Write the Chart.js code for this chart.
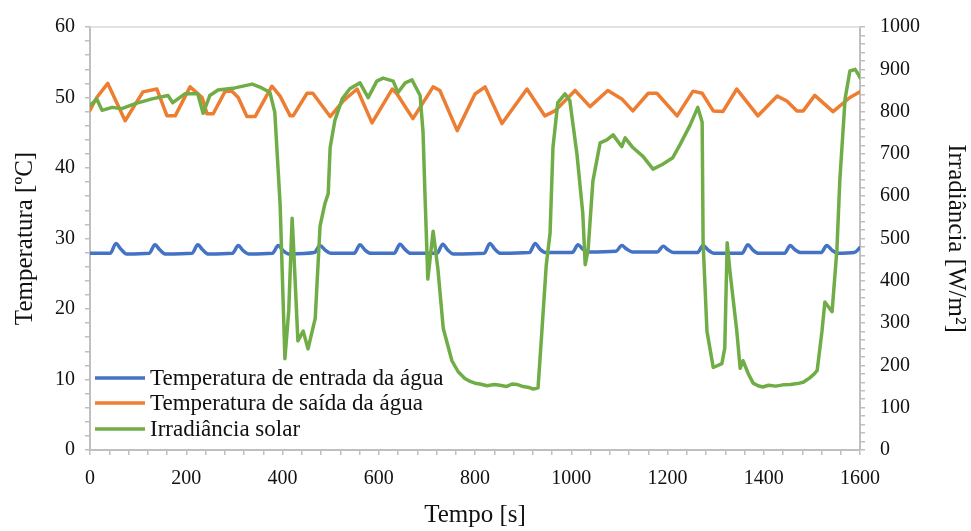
<!DOCTYPE html>
<html lang="pt">
<head>
<meta charset="utf-8">
<title>Temperatura e irradiância</title>
<script src="https://cdn.jsdelivr.net/npm/chart.js@4/dist/chart.umd.min.js"></script>
<style>
  html, body { margin: 0; padding: 0; background: #ffffff; }
  #wrap { width: 971px; height: 531px; position: relative; }
</style>
</head>
<body>
<div id="wrap"><canvas id="solarChart"></canvas></div>
<script>
// Tempo [s] e temperatura de entrada da água [ºC]
const inTime = [0, 42, 54, 64, 76, 123, 135, 145, 157, 212, 224, 234, 246, 296, 308, 318, 330,
    379, 391, 401, 413, 466, 478, 488, 500, 549, 561, 571, 583, 632, 644, 654, 666,
    721, 733, 743, 755, 819, 831, 841, 853, 913, 925, 935, 947, 1002, 1014, 1024, 1036,
    1093, 1105, 1115, 1127, 1179, 1191, 1201, 1213, 1262, 1274, 1284, 1296,
    1355, 1367, 1377, 1389, 1443, 1455, 1465, 1477, 1519, 1531, 1541, 1553, 1588, 1600];
const inTemp = [27.9, 27.9, 29.3, 28.5, 27.8, 27.9, 29.1, 28.4, 27.8, 27.9, 29.1, 28.4, 27.8,
    27.9, 29.0, 28.3, 27.8, 27.9, 29.0, 28.3, 27.8, 28.0, 29.0, 28.4, 27.9,
    27.9, 29.1, 28.4, 27.9, 27.9, 29.2, 28.5, 27.9, 27.9, 29.2, 28.4, 27.8,
    27.9, 29.3, 28.5, 27.9, 28.0, 29.3, 28.5, 28.0, 28.0, 29.1, 28.5, 28.1,
    28.2, 29.0, 28.5, 28.1, 28.1, 28.9, 28.4, 28.0, 28.0, 29.0, 28.4, 27.9,
    27.9, 29.1, 28.4, 27.9, 27.9, 29.0, 28.4, 28.0, 28.0, 29.0, 28.4, 27.9, 28.0, 28.7];

// Temperatura de saída da água [ºC]
const outTime = [0, 14, 37, 73, 110, 139, 160, 177, 208, 233, 243, 256, 281, 295, 308, 326, 343,
    378, 395, 416, 422, 451, 463, 499, 526, 555, 586, 628, 638, 671, 713, 727, 763,
    800, 821, 856, 908, 945, 966, 1008, 1039, 1076, 1105, 1128, 1160, 1178, 1220,
    1253, 1272, 1295, 1315, 1344, 1388, 1428, 1448, 1469, 1482, 1506, 1544, 1579, 1600];
const outTemp = [48.2, 50.0, 52.0, 46.7, 50.8, 51.2, 47.4, 47.4, 51.5, 50.0, 47.7, 47.7, 50.9,
    50.9, 50.0, 47.3, 47.3, 51.6, 50.2, 47.4, 47.4, 50.6, 50.6, 47.3, 49.5, 51.2,
    46.4, 51.2, 50.5, 47.0, 51.5, 51.0, 45.3, 50.5, 51.5, 46.3, 51.2, 47.4, 48.1,
    51.0, 48.7, 51.0, 49.8, 48.1, 50.6, 50.6, 47.4, 50.9, 50.6, 48.1, 48.0, 51.2,
    47.4, 50.2, 49.5, 48.1, 48.1, 50.3, 48.0, 50.0, 50.8];

// Irradiância solar [W/m²]
const irrTime = [0, 14, 25, 46, 66, 94, 129, 162, 172, 197, 224, 235, 249, 266, 301, 337, 357,
    374, 384, 395, 405, 413, 420, 423, 432, 443, 453, 468, 478, 488, 495, 499, 509,
    524, 540, 561, 578, 596, 609, 630, 640, 655, 669, 686, 692, 696, 702, 713, 723,
    734, 752, 765, 779, 790, 800, 810, 825, 840, 852, 865, 877, 887, 900, 912, 921,
    931, 939, 948, 956, 962, 972, 987, 997, 1012, 1024, 1029, 1035, 1045, 1060, 1074,
    1087, 1105, 1112, 1128, 1149, 1170, 1189, 1211, 1226, 1247, 1263, 1272, 1274,
    1282, 1295, 1313, 1319, 1324, 1330, 1344, 1351, 1357, 1368, 1378, 1388, 1398,
    1410, 1425, 1440, 1455, 1470, 1482, 1495, 1505, 1511, 1521, 1527, 1542, 1552,
    1558, 1569, 1579, 1590, 1596, 1600];
const irrValue = [814, 830, 803, 810, 807, 819, 830, 838, 821, 842, 842, 796, 838, 851, 856, 865, 856,
    845, 798, 582, 216, 330, 548, 480, 258, 281, 239, 311, 529, 582, 606, 715, 780,
    830, 854, 868, 833, 872, 879, 872, 845, 868, 875, 838, 752, 606, 404, 517, 427,
    288, 211, 185, 169, 162, 158, 156, 152, 155, 153, 150, 156, 155, 150, 148, 144,
    147, 281, 436, 513, 715, 821, 842, 826, 698, 559, 438, 473, 636, 726, 733,
    745, 717, 738, 715, 694, 664, 675, 691, 722, 768, 810, 775, 490,
    281, 195, 204, 241, 490, 420, 281, 193, 211, 180, 158, 152, 149,
    153, 151, 154, 155, 157, 160, 170, 180, 188, 281, 350, 327, 473,
    636, 830, 896, 900, 889, 880];

const seriesNames = ['Temperatura de entrada da água', 'Temperatura de saída da água', 'Irradiância solar'];
const seriesColors = ['#4472C4', '#ED7D31', '#70AD47'];

const serif = "'Liberation Serif', 'Times New Roman', serif";
const axisGrey = '#bfbfbf';

function toPoints(xs, ys) {
    return xs.map((x, i) => ({ x, y: ys[i] }));
}

// top edge of the plot box plus the legend sitting inside it, bottom left
const boxAndLegend = {
    id: 'boxAndLegend',
    beforeDatasetsDraw(chart) {
        const { ctx, chartArea } = chart;
        ctx.save();
        ctx.strokeStyle = '#d9d9d9';
        ctx.lineWidth = 1.5;
        ctx.beginPath();
        ctx.moveTo(chartArea.left, chartArea.top);
        ctx.lineTo(chartArea.right, chartArea.top);
        ctx.stroke();
        ctx.restore();
    },
    afterDraw(chart) {
        const { ctx } = chart;
        const rows = [378, 403, 429];
        ctx.save();
        ctx.font = `23px ${serif}`;
        ctx.textBaseline = 'middle';
        ctx.fillStyle = '#111';
        seriesNames.forEach((name, i) => {
            ctx.strokeStyle = seriesColors[i];
            ctx.lineWidth = 3.5;
            ctx.beginPath();
            ctx.moveTo(95, rows[i]);
            ctx.lineTo(145, rows[i]);
            ctx.stroke();
            ctx.fillText(name, 150, rows[i] + 1);
        });
        ctx.restore();
    }
};

const ctx = document.getElementById('solarChart').getContext('2d');

new Chart(ctx, {
    type: 'line',
    data: {
        datasets: [
            {
                label: seriesNames[0],
                data: toPoints(inTime, inTemp),
                borderColor: seriesColors[0],
                cubicInterpolationMode: 'monotone',
                yAxisID: 'y',
                order: 1
            },
            {
                label: seriesNames[1],
                data: toPoints(outTime, outTemp),
                borderColor: seriesColors[1],
                yAxisID: 'y',
                order: 2
            },
            {
                label: seriesNames[2],
                data: toPoints(irrTime, irrValue),
                borderColor: seriesColors[2],
                yAxisID: 'y1',
                order: 0
            }
        ]
    },
    options: {
        responsive: true,
        maintainAspectRatio: false,
        animation: false,
        devicePixelRatio: 1,
        layout: { padding: { top: 20, left: 0, right: 0, bottom: 0 } },
        elements: {
            point: { radius: 0 },
            line: { borderWidth: 3.5, tension: 0, fill: false, borderJoinStyle: 'round', borderCapStyle: 'round' }
        },
        plugins: {
            legend: { display: false },
            tooltip: { enabled: false }
        },
        scales: {
            x: {
                type: 'linear',
                min: 0,
                max: 1600,
                grid: { drawOnChartArea: false, tickLength: 5, color: axisGrey, lineWidth: 1.5 },
                border: { color: axisGrey, width: 2 },
                ticks: {
                    stepSize: 40,
                    autoSkip: false,
                    maxRotation: 0,
                    padding: 12,
                    color: '#111',
                    font: { family: serif, size: 20 },
                    callback: v => (v % 200 === 0 ? v : '')
                },
                title: {
                    display: true,
                    text: 'Tempo [s]',
                    color: '#111',
                    font: { family: serif, size: 25 },
                    padding: { top: 0, bottom: 1 }
                },
                afterFit: scale => { scale.height = 81; }
            },
            y: {
                position: 'left',
                min: 0,
                max: 60,
                grid: { drawOnChartArea: false, tickLength: 5, color: axisGrey, lineWidth: 1.5 },
                border: { color: axisGrey, width: 2 },
                ticks: {
                    stepSize: 2,
                    autoSkip: false,
                    padding: 10,
                    color: '#111',
                    font: { family: serif, size: 20 },
                    callback: v => (v % 10 === 0 ? v : '')
                },
                title: {
                    display: true,
                    text: 'Temperatura [ºC]',
                    color: '#111',
                    font: { family: serif, size: 25 },
                    padding: { top: 10, bottom: 0 }
                },
                afterFit: scale => { scale.width = 90; }
            },
            y1: {
                position: 'right',
                min: 0,
                max: 1000,
                grid: { drawOnChartArea: false, tickLength: 5, color: axisGrey, lineWidth: 1.5 },
                border: { color: axisGrey, width: 2 },
                ticks: {
                    stepSize: 20,
                    autoSkip: false,
                    padding: 15,
                    color: '#111',
                    font: { family: serif, size: 20 },
                    callback: v => (v % 100 === 0 ? v : '')
                },
                title: {
                    display: true,
                    text: 'Irradiância [W/m²]',
                    color: '#111',
                    font: { family: serif, size: 25 },
                    padding: { top: 0, bottom: 0 }
                },
                afterFit: scale => { scale.width = 111; }
            }
        }
    },
    plugins: [boxAndLegend]
});
</script>
</body>
</html>
